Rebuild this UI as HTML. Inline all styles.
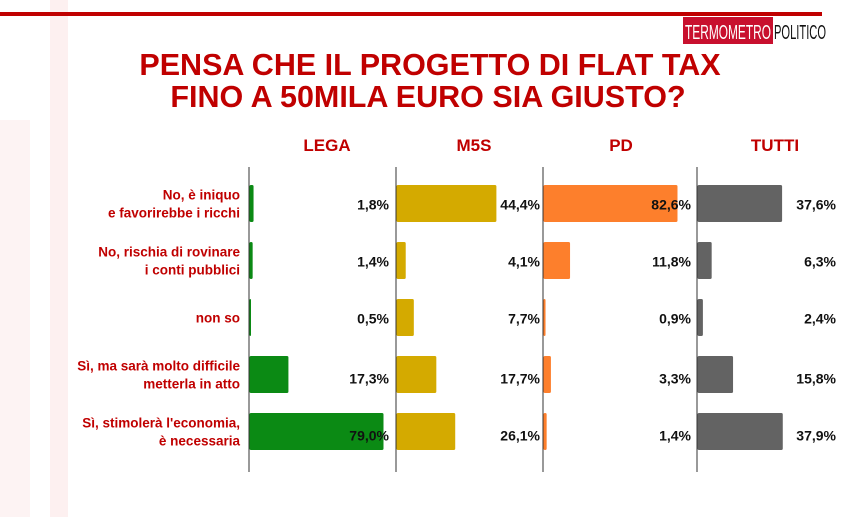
<!DOCTYPE html>
<html><head><meta charset="utf-8"><style>
body{margin:0;background:#fff;}
svg text{font-family:"Liberation Sans",sans-serif;font-weight:bold;}
</style></head><body>
<svg id="c" width="859" height="517" xmlns="http://www.w3.org/2000/svg">
<rect x="50" y="0" width="18" height="517" fill="#fdf0f0"/>
<rect x="0" y="120" width="30" height="397" fill="#fdf3f3"/>
<rect x="0" y="12" width="822" height="4" fill="#c00000"/>
<g>
<rect x="683" y="17" width="90" height="27" fill="#c8102e"/>
<text x="728" y="39" font-size="20" fill="#fff" text-anchor="middle" style="font-weight:normal" textLength="86" lengthAdjust="spacingAndGlyphs">TERMOMETRO</text>
<text x="800" y="39" font-size="20" fill="#111" text-anchor="middle" style="font-weight:normal" textLength="52" lengthAdjust="spacingAndGlyphs">POLITICO</text>
</g>
<text x="430" y="75" font-size="30.5" fill="#c00000" text-anchor="middle">PENSA CHE IL PROGETTO DI FLAT TAX</text>
<text x="428" y="107" font-size="30.5" fill="#c00000" text-anchor="middle">FINO A 50MILA EURO SIA GIUSTO?</text>
<g id="plot"></g>
</svg>
<script>
const categories=["No, è iniquo|e favorirebbe i ricchi","No, rischia di rovinare|i conti pubblici","non so","Sì, ma sarà molto difficile|metterla in atto","Sì, stimolerà l'economia,|è necessaria"];
const groups=["LEGA","M5S","PD","TUTTI"];
const lega=[1.8,1.4,0.5,17.3,79.0];
const m5s=[44.4,4.1,7.7,17.7,26.1];
const pd=[82.6,11.8,0.9,3.3,1.4];
const tutti=[37.6,6.3,2.4,15.8,37.9];
const series=[lega,m5s,pd,tutti];
const colors=["#0b8a14","#d4aa00","#fd7f2c","#636363"];
const axisX=[249,396,543,697];
const valRight=[389,540,691,836];
const panelMax=134;
const scale=2.25;
const ns="http://www.w3.org/2000/svg";
const g=document.getElementById('plot');
function rowY(i){return 185+i*57;}
const barH=37;
function mk(t,a){const e=document.createElementNS(ns,t);for(const k in a)e.setAttribute(k,a[k]);g.appendChild(e);return e;}
categories.forEach((c,i)=>{
  const parts=c.split('|');const cy=rowY(i)+barH/2;
  parts.forEach((p,j)=>{
    const t=mk('text',{x:240,y:cy+5+(j-(parts.length-1)/2)*18,'font-size':13.5,fill:'#c00000','text-anchor':'end'});
    t.textContent=p;
    
    
  });
});
series.forEach((s,k)=>{
  const h=mk('text',{x:axisX[k]+78,y:151,'font-size':17,fill:'#c00000','text-anchor':'middle'});
  h.textContent=groups[k];
  
  
  const ax=mk('line',{x1:axisX[k],x2:axisX[k],y1:167,y2:472,stroke:'#333','stroke-width':1});
  
  
  s.forEach((v,i)=>{
    const w=Math.min(panelMax,Math.max(1.5,v*scale));
    const r=mk('rect',{x:axisX[k]+0.5,y:rowY(i),width:w,height:barH,fill:colors[k],rx:1.5});
    
    
    const t=mk('text',{x:valRight[k],y:rowY(i)+barH/2+6+(i>=3?3:0),'font-size':14,fill:'#111','text-anchor':'end'});
    t.textContent=v.toFixed(1).replace('.',',')+'%';
    
    
  });
});
</script>
</body></html>
